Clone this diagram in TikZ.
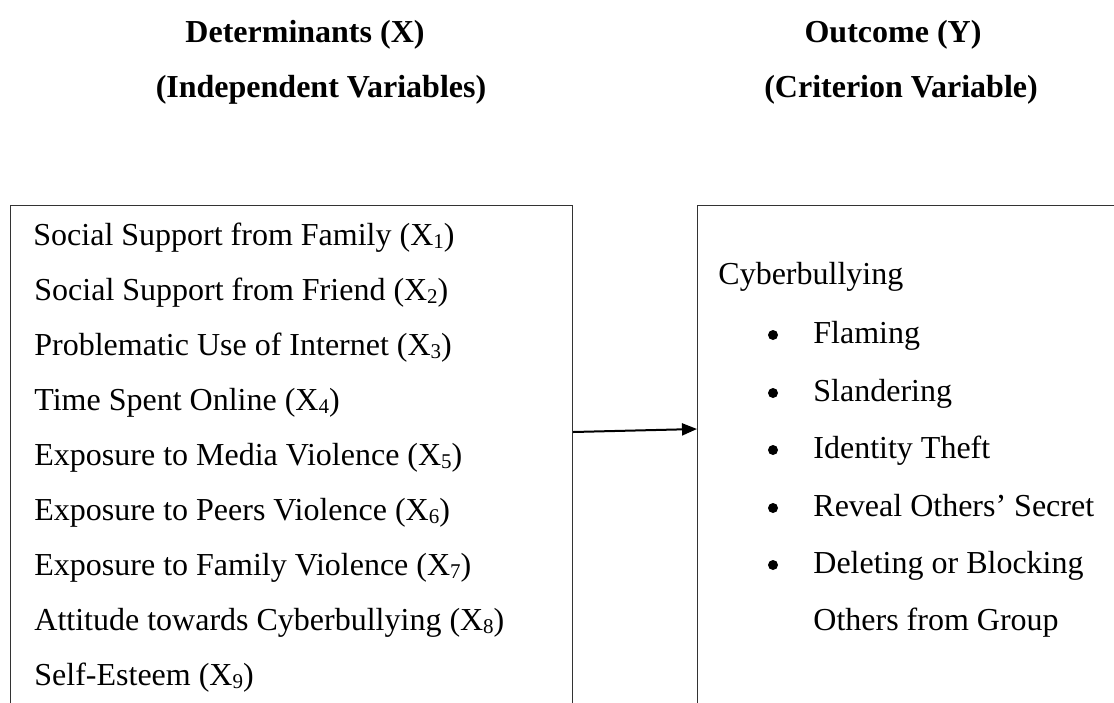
\documentclass[tikz,border=0pt]{standalone}
\usepackage{fontspec}
\setmainfont{Liberation Serif}
\usetikzlibrary{arrows.meta}
\newcommand\subx[1]{\raisebox{-1.5pt}{\fontsize{10.5}{12}\selectfont #1}}
\begin{document}
\begin{tikzpicture}[x=0.5pt,y=-0.5pt,
  txt/.style={anchor=base west, inner sep=0pt, font=\fontsize{16}{19}\selectfont},
  bul/.style={circle, fill=black, inner sep=0pt, minimum size=5pt},
  ttl/.style={anchor=base, inner sep=0pt, font=\fontsize{16}{19}\selectfont\bfseries},
  box/.style={draw=black!80, line width=0.6pt, anchor=north west, inner sep=0pt},
  conn/.style={line width=1pt, -{Triangle[length=7.5pt,width=6pt]}}]
\useasboundingbox (0,0) rectangle (1114,702);
\clip (0,0) rectangle (1114,702);
% titles
\node[ttl] (t1) at (305,42) {Determinants (X)};
\node[ttl] (t2) at (321,97) {(Independent Variables)};
\node[ttl] (t3) at (893,42) {Outcome (Y)};
\node[ttl] (t4) at (901,97) {(Criterion Variable)};
% boxes
\node[box, minimum width=281pt, minimum height=350pt] (lb) at (10,205) {};
\node[box, minimum width=300pt, minimum height=350pt] (rb) at (697,205) {};
% left items
\node[txt] (x1) at (33,245) {Social Support from Family (X\subx{1})};
\node[txt] (x2) at (34,300) {Social Support from Friend (X\subx{2})};
\node[txt] (x3) at (34,355) {Problematic Use of Internet (X\subx{3})};
\node[txt] (x4) at (34,410) {Time Spent Online (X\subx{4})};
\node[txt] (x5) at (34,465) {Exposure to Media Violence (X\subx{5})};
\node[txt] (x6) at (34,520) {Exposure to Peers Violence (X\subx{6})};
\node[txt] (x7) at (34,575) {Exposure to Family Violence (X\subx{7})};
\node[txt] (x8) at (34,630) {Attitude towards Cyberbullying (X\subx{8})};
\node[txt] (x9) at (34,685) {Self-Esteem (X\subx{9})};
% right items
\node[txt] (y0) at (718,284) {Cyberbullying};
\node[bul] (b1) at (773,335) {};
\node[txt] (y1) at (813,343) {Flaming};
\node[bul] (b2) at (773,393) {};
\node[txt] (y2) at (813,401) {Slandering};
\node[bul] (b3) at (773,450) {};
\node[txt] (y3) at (813,458) {Identity Theft};
\node[bul] (b4) at (773,508) {};
\node[txt] (y4) at (813,516) {Reveal Others’ Secret};
\node[bul] (b5) at (773,565) {};
\node[txt] (y5) at (813,573) {Deleting or Blocking};
\node[txt] (y6) at (813,630) {Others from Group};
% connector
\draw[conn] ([yshift=-113.5pt]lb.north east) -- ([yshift=-112pt]rb.north west);
\end{tikzpicture}
\end{document}
